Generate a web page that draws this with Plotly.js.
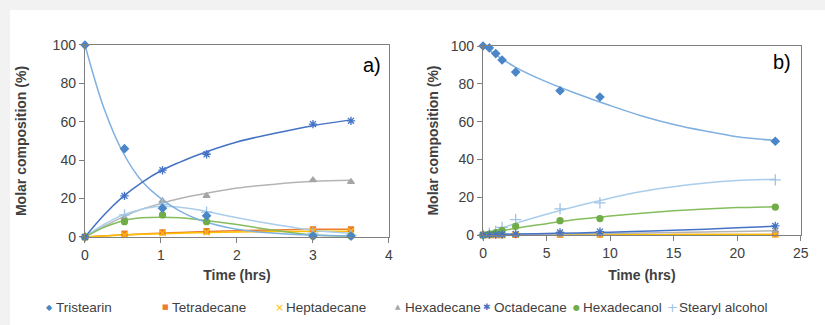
<!DOCTYPE html>
<html>
<head>
<meta charset="utf-8">
<script src="https://cdn.plot.ly/plotly-3.0.1.min.js"></script>
<style>
  html, body { margin: 0; padding: 0; background: #f2f2f2; width: 825px; height: 325px; overflow: hidden; }
  #chart { position: absolute; left: 10px; top: 10px; width: 815px; height: 315px; background: #ffffff; }
</style>
</head>
<body>
<div id="chart"></div>
<script>
// ---------- Panel a) measured points ----------
const timeA = [0, 0.52, 1.02, 1.6, 3.0, 3.5];
const tristearinA = [100, 46, 15, 11, 0.5, 0.5];
const tetradecaneA = [0, 1.7, 2.4, 3.0, 4.0, 4.0];
const heptadecaneA = [0, 1.0, 2.0, 2.5, 3.0, 3.0];
const hexadecaneA = [0, 10, 18.8, 21.4, 29.6, 28.7];
const octadecaneA = [0, 21.4, 34.8, 43.1, 58.8, 60.5];
const hexadecanolA = [0, 8.0, 11.5, 8.0, 0.5, 0.5];
const stearylA = [0, 11.5, 17, 13, 2, 1];

// ---------- Panel a) trend lines (read from picture) ----------
const trendTimeA = [0, 0.25, 0.5, 0.75, 1, 1.25, 1.5, 2, 2.5, 3, 3.5];
const trendTristearinA = [100, 67, 44, 29, 20, 13.5, 9, 4, 2, 1, 0.5];
const trendOctadecaneA = [0, 11.5, 21, 28.5, 34.5, 39, 43, 49.5, 54, 58, 61];
const trendHexadecaneA = [0, 5.5, 10.5, 14.5, 17.5, 20, 22, 25.5, 27.5, 29, 29.5];
const trendStearylA = [0, 6.5, 11.5, 14.5, 16, 15.5, 14, 10, 6.5, 3.5, 2];
const trendHexadecanolA = [0, 5, 8.5, 10, 10.3, 10, 9, 6.5, 3.5, 1, 0.5];
const trendTetradecaneA = [0, 0.6, 1.2, 1.6, 2, 2.4, 2.7, 3.3, 3.7, 4, 4];
const trendHeptadecaneA = [0, 0.5, 1.0, 1.4, 1.7, 2.0, 2.2, 2.6, 2.8, 3, 3];

// ---------- Panel b) measured points ----------
const timeB = [0, 0.5, 1.0, 1.5, 2.57, 6.06, 9.2, 23.0];
const tristearinB = [100, 99, 96, 92.6, 86.2, 76.3, 73, 49.6];
const tetradecaneB = [0, 0, 0, 0, 0.1, 0.2, 0.2, 0.3];
const heptadecaneB = [0, 0, 0, 0, 0.1, 0.2, 0.2, 0.3];
const hexadecaneB = [0, 0, 0, 0, 0.1, 0.3, 0.5, 2.3];
const octadecaneB = [0, 0.2, 0.3, 0.3, 0.5, 1.4, 1.8, 4.8];
const hexadecanolB = [0, 0.5, 1.2, 2.5, 4.6, 7.6, 8.7, 14.8];
const stearylB = [0, 1, 2, 4, 8.1, 13.8, 17, 29.2];

// ---------- Panel b) trend lines (read from picture) ----------
const trendTimeB = [0, 2.5, 5, 7.5, 10, 12.5, 15, 17.5, 20, 23];
const trendTristearinB = [100, 89, 81, 74.5, 68.5, 63, 58.5, 55, 52, 50];
const trendStearylB = [0, 6, 11, 15.5, 19.5, 23, 25.5, 27.5, 28.8, 29.5];
const trendHexadecanolB = [0, 3.5, 6, 8.3, 10, 11.5, 12.8, 13.8, 14.5, 15];
const trendOctadecaneB = [0.3, 0.5, 0.8, 1.1, 1.5, 2.0, 2.5, 3.1, 3.8, 4.6];
const trendHexadecaneB = [0, 0.2, 0.4, 0.6, 0.8, 1.0, 1.3, 1.6, 1.9, 2.3];
const trendTetradecaneB = [0, 0.1, 0.1, 0.2, 0.2, 0.2, 0.2, 0.3, 0.3, 0.3];
const trendHeptadecaneB = [0, 0.1, 0.1, 0.2, 0.2, 0.2, 0.2, 0.3, 0.3, 0.3];

// ---------- series names / legend glyphs ----------
const seriesNames = ['Tristearin', 'Tetradecane', 'Heptadecane', 'Hexadecane', 'Octadecane', 'Hexadecanol', 'Stearyl alcohol'];
const legendGlyphs = ['◆', '■', '×', '▲', '✱', '●', '+'];

// ---------- styles ----------
const markerColors = ['#4a86c8', '#ed7d31', '#ffc000', '#a5a5a5', '#4472c4', '#70ad47', '#9dc3e6'];
const lineColors   = ['#7fb0e0', '#ed7d31', '#ffc000', '#b4b4b4', '#4472c4', '#84bd5c', '#a9cdeb'];
const symbols = ['diamond', 'square', 'x-thin-open', 'triangle-up', 'asterisk-open', 'circle', 'cross-thin-open'];
const sizes = [6, 5, 6, 6, 7, 6, 8];
const glyphSizes = [8, 7, 11, 7, 9, 8, 13];
const legendMarkerPx = [49, 165, 279, 398, 487, 576, 672];

const pointsA = [tristearinA, tetradecaneA, heptadecaneA, hexadecaneA, octadecaneA, hexadecanolA, stearylA];
const trendsA = [trendTristearinA, trendTetradecaneA, trendHeptadecaneA, trendHexadecaneA, trendOctadecaneA, trendHexadecanolA, trendStearylA];
const pointsB = [tristearinB, tetradecaneB, heptadecaneB, hexadecaneB, octadecaneB, hexadecanolB, stearylB];
const trendsB = [trendTristearinB, trendTetradecaneB, trendHeptadecaneB, trendHexadecaneB, trendOctadecaneB, trendHexadecanolB, trendStearylB];

const traces = [];
const drawOrder = [1, 2, 3, 6, 5, 0, 4];
drawOrder.forEach(i => {
  traces.push({x: trendTimeA, y: trendsA[i], xaxis: 'x', yaxis: 'y', mode: 'lines', line: {color: lineColors[i], width: 1.5, shape: 'spline'}, showlegend: false, hoverinfo: 'skip', cliponaxis: false});
  traces.push({x: trendTimeB, y: trendsB[i], xaxis: 'x2', yaxis: 'y2', mode: 'lines', line: {color: lineColors[i], width: 1.5, shape: 'spline'}, showlegend: false, hoverinfo: 'skip', cliponaxis: false});
});
drawOrder.forEach(i => {
  const mk = {color: markerColors[i], symbol: symbols[i], size: sizes[i], line: {color: markerColors[i], width: 1.3}};
  traces.push({x: timeA, y: pointsA[i], xaxis: 'x', yaxis: 'y', mode: 'markers', name: seriesNames[i], marker: mk, cliponaxis: false, showlegend: false});
  traces.push({x: timeB, y: pointsB[i], xaxis: 'x2', yaxis: 'y2', mode: 'markers', name: seriesNames[i], marker: mk, cliponaxis: false, showlegend: false});
});

const FONT = 'Liberation Sans, Arial, sans-serif';
const tickFont = {family: FONT, size: 14, color: '#404040'};
const titleFont = {family: FONT, size: 14, color: '#404040', weight: 'bold'};
const axisCommon = {showgrid: false, zeroline: false, showline: true, linecolor: '#808080', linewidth: 1.2, mirror: true,
  ticks: 'outside', ticklen: 5, tickcolor: '#808080', tickfont: tickFont};

const annotations = [
  {text: 'a)', xref: 'x domain', yref: 'y domain', x: 0.98, y: 0.896, xanchor: 'right', yanchor: 'middle', showarrow: false,
    font: {family: FONT, size: 20, color: '#000000'}},
  {text: 'b)', xref: 'x2 domain', yref: 'y2 domain', x: 0.976, y: 0.915, xanchor: 'right', yanchor: 'middle', showarrow: false,
    font: {family: FONT, size: 20, color: '#000000'}}
];
// legend row (glyph + label)
const legendY = 0.0571;
seriesNames.forEach((n, i) => {
  const px = legendMarkerPx[i] - 10;
  annotations.push({text: legendGlyphs[i], xref: 'paper', yref: 'paper', x: px / 815, y: legendY, xanchor: 'center', yanchor: 'middle',
    showarrow: false, font: {family: 'DejaVu Sans, sans-serif', size: glyphSizes[i], color: markerColors[i]}});
  annotations.push({text: n, xref: 'paper', yref: 'paper', x: (px + 5) / 815, y: legendY, xanchor: 'left', yanchor: 'middle',
    showarrow: false, font: {family: FONT, size: 13.5, color: '#404040'}});
});

const layout = {
  width: 815, height: 315,
  margin: {l: 0, r: 0, t: 0, b: 0},
  paper_bgcolor: '#ffffff', plot_bgcolor: '#ffffff',
  showlegend: false,
  xaxis: Object.assign({}, axisCommon, {domain: [0.0920, 0.4650], range: [0, 4], dtick: 1, anchor: 'y',
    title: {text: 'Time (hrs)', font: titleFont, standoff: 8}}),
  yaxis: Object.assign({}, axisCommon, {domain: [0.2794, 0.8889], range: [0, 100], dtick: 20, anchor: 'x',
    title: {text: 'Molar composition (%)', font: titleFont, standoff: 22}}),
  xaxis2: Object.assign({}, axisCommon, {domain: [0.5804, 0.9702], range: [0, 25], dtick: 5, anchor: 'y2',
    title: {text: 'Time (hrs)', font: titleFont, standoff: 10}}),
  yaxis2: Object.assign({}, axisCommon, {domain: [0.2857, 0.8857], range: [0, 100], dtick: 20, anchor: 'x2',
    title: {text: 'Molar composition (%)', font: titleFont, standoff: 8}}),
  annotations: annotations
};

Plotly.newPlot('chart', traces, layout, {displayModeBar: false, staticPlot: true});
</script>
</body>
</html>
